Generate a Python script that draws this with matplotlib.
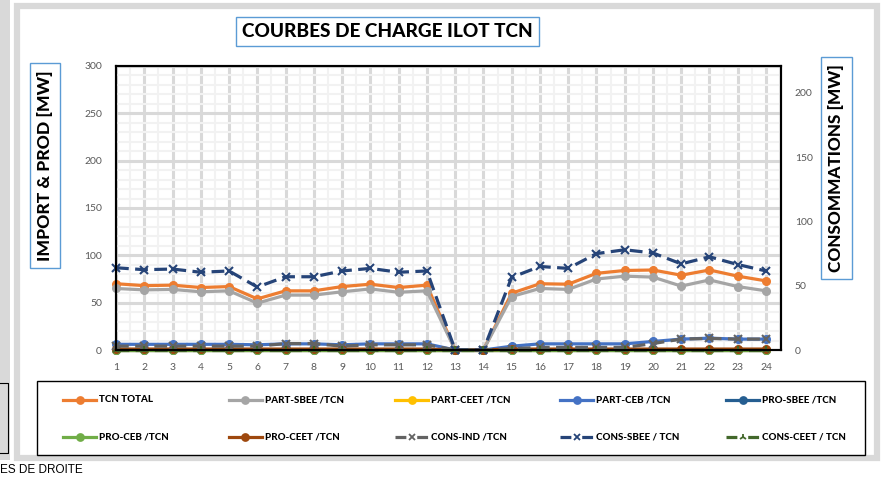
import matplotlib
matplotlib.use("Agg")
import matplotlib.pyplot as plt
from matplotlib.lines import Line2D
from matplotlib.patches import Rectangle
import numpy as np

plt.rcParams['font.family'] = ['Lato', 'DejaVu Sans']

# ---- data ----
hours = list(range(1, 25))
tcn_total = [70, 68, 68.5, 66, 67, 54, 62.5, 62.5, 67, 69.5, 66, 68.5,
             0, 0, 60, 70, 69.5, 81, 84, 84.5, 79, 84.5, 78, 73]
part_sbee = [65, 63.5, 64, 61.5, 62.5, 49.5, 58, 58, 61.5, 64.5, 61, 62.5,
             0, 0, 56.5, 65, 64, 75, 78, 77, 67.5, 74, 67, 62.5]
part_ceet = [0] * 24
part_ceb = [6, 6, 6, 6, 6, 5.5, 6.5, 6.5, 5.5, 6.5, 6.5, 6.5,
            0, 0, 4, 6.5, 6.5, 6.5, 6.5, 9, 11.5, 12.5, 11.5, 11.5]
pro_sbee = [0] * 24
pro_ceb = [0] * 24
pro_ceet = [1, 1, 1, 1, 1, 1, 1, 1, 1, 1, 1, 1,
            0, 0, 1, 1, 1, 1, 1, 1, 1, 1, 1, 1]
# right axis (consommations)
cons_ind = [3, 3, 3, 3, 3, 3, 5, 5, 3, 4, 4, 4,
            0, 0, 1, 2, 2, 2, 2, 5, 8.5, 9, 8.5, 8.5]
cons_sbee = [64, 62.5, 63, 60.5, 61.5, 49, 57, 57, 61.5, 63.5, 60.5, 61.5,
             0, 0, 56.5, 65, 63.5, 75, 78, 75.5, 67, 72.5, 66.5, 61.5]
cons_ceet = [0] * 24

left_series = [
    ("TCN TOTAL", tcn_total, "#ED7D31"),
    ("PART-SBEE /TCN", part_sbee, "#A5A5A5"),
    ("PART-CEET /TCN", part_ceet, "#FFC000"),
    ("PART-CEB /TCN", part_ceb, "#4472C4"),
    ("PRO-SBEE /TCN", pro_sbee, "#255E91"),
    ("PRO-CEB /TCN", pro_ceb, "#70AD47"),
    ("PRO-CEET /TCN", pro_ceet, "#9E480E"),
]
right_series = [
    ("CONS-IND /TCN", cons_ind, "#636363", "x"),
    ("CONS-SBEE / TCN", cons_sbee, "#264478", "x"),
    ("CONS-CEET / TCN", cons_ceet, "#43682B", "2"),
]

W, H = 881, 478
fig = plt.figure(figsize=(W / 100, H / 100), dpi=100)


def fx(px):
    return px / W


def fy(py):
    return 1 - py / H


# outer chart frame + neighbour shapes from the sheet
fig.patches.append(Rectangle((fx(16.5), fy(458)), fx(877) - fx(16.5), fy(5.5) - fy(458),
                             transform=fig.transFigure, fill=False, ec="#d9d9d9", lw=4.5))
fig.patches.append(Rectangle((fx(0), fy(460)), fx(10), fy(0) - fy(460),
                             transform=fig.transFigure, fc="#d9d9d9", ec="none"))
fig.add_artist(Line2D([fx(0), fx(8), fx(8), fx(0)], [fy(383), fy(383), fy(453), fy(453)],
                      transform=fig.transFigure, color="black", lw=0.8))
fig.text(0, fy(470), "ES DE DROITE", family="Liberation Sans", fontsize=8.5,
         va="center", ha="left")

ax = fig.add_axes([fx(116), fy(350), fx(781) - fx(116), fy(66) - fy(350)])
ax.set_xlim(1, 24.53)
ax.set_ylim(0, 300)
ax.set_xticks(hours)
ax.set_xticks(np.arange(1.5, 25, 1), minor=True)
ax.set_yticks(range(0, 301, 50))
ax.set_yticks(range(0, 301, 10), minor=True)
ax.grid(which="minor", color="#f2f2f2", lw=1.5)
ax.grid(which="major", color="#d9d9d9", lw=2.2)
ax.set_axisbelow(True)
ax.tick_params(which="both", length=0)
ax.tick_params(axis="y", pad=10, labelsize=7.5, labelcolor="#595959")
ax.tick_params(axis="x", pad=9, labelsize=7.5, labelcolor="#595959")

for name, vals, col in left_series:
    ax.plot(hours, vals, color=col, lw=2.3, marker="o", ms=5.5, label=name, clip_on=False)

ax2 = ax.twinx()
ax2.set_ylim(0, 221)
ax2.set_yticks([0, 50, 100, 150, 200])
ax2.tick_params(length=0, pad=10, labelsize=7.5, labelcolor="#595959")
for name, vals, col, mk in right_series:
    ax2.plot(hours, vals, color=col, lw=2.3, ls=(0, (4, 2)), marker=mk, ms=6, mew=1.5,
             label=name, clip_on=False)

for a in (ax, ax2):
    for s in a.spines.values():
        s.set_color("black")
        s.set_linewidth(1.5)

# title and axis titles in boxes
fig.text(fx(387.5), fy(31.5), "COURBES DE CHARGE ILOT TCN", fontsize=13.7, weight="black",
         ha="center", va="center",
         bbox=dict(boxstyle="square,pad=0.3", fc="white", ec="#5B9BD5", lw=1))
vbox = dict(boxstyle="square,pad=0.42", fc="white", ec="#5B9BD5", lw=1)
fig.text(fx(45), fy(165.5), "IMPORT & PROD [MW]", fontsize=12.6, weight="black",
         rotation=90, ha="center", va="center", bbox=vbox)
fig.text(fx(836.5), fy(168), "CONSOMMATIONS [MW]", fontsize=12.3, weight="black",
         rotation=90, ha="center", va="center", bbox=vbox)

# legend drawn as an Excel-like 5x2 block
fig.patches.append(Rectangle((fx(37), fy(455)), fx(865) - fx(37), fy(381) - fy(455),
                             transform=fig.transFigure, fc="white", ec="black", lw=1))
entries = [(n, c, "o", "-") for n, v, c in left_series] + \
          [(n, c, m, (0, (3.4, 3.4))) for n, v, c, m in right_series]
col_x = [63, 229, 395, 560, 726]
row_y = [400, 437]
for i, (name, col, mk, ls) in enumerate(entries):
    x0 = col_x[i % 5]
    y0 = row_y[i // 5]
    fig.add_artist(Line2D([fx(x0), fx(x0 + 16.5), fx(x0 + 33)], [fy(y0)] * 3,
                          transform=fig.transFigure, color=col, lw=2.3, ls=ls,
                          marker=mk, ms=5, mew=1.3, markevery=[1]))
    fig.text(fx(x0 + 36), fy(y0), name, fontsize=7, weight="black", ha="left", va="center")

fig.savefig("out.png", dpi=100)
